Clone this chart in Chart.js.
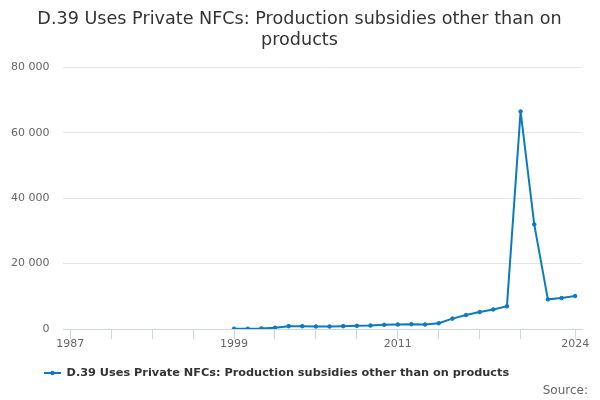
<!DOCTYPE html>
<html>
<head>
<meta charset="utf-8">
<script src="https://cdn.jsdelivr.net/npm/chart.js@4"></script>
<style>
  html, body { margin: 0; padding: 0; background: #fff; }
  #wrap { width: 600px; height: 400px; position: relative; }
</style>
</head>
<body>
<div id="wrap"><canvas id="chart"></canvas></div>
<script>
// years shown on the axis, 1987 to 2024
var annees = [];
for (var a = 1987; a <= 2024; a++) annees.push(String(a));

// values, no data before 1999
var valeurs = [
  null, null, null, null, null, null, null, null, null, null, null, null,
  100, 100, 200, 400, 900, 900, 800, 800, 900, 1000,
  1100, 1300, 1400, 1500, 1400, 1800, 3200, 4300, 5200, 6000,
  7000, 66500, 32000, 9100, 9500, 10100
];

var ticksMarques = ['1987', '1990', '1993', '1996', '1999', '2002', '2005', '2008', '2011', '2014', '2017', '2020', '2024'];
var ticksTextes = ['1987', '1999', '2011', '2024'];

const NOM_SERIE = 'D.39 Uses Private NFCs: Production subsidies other than on products';
const BLEU = '#0b7bc1';

// legend symbol: short line with a dot in the middle
var symbole = document.createElement('canvas');
symbole.width = 17; symbole.height = 8;
var sc = symbole.getContext('2d');
sc.strokeStyle = BLEU; sc.lineWidth = 2;
sc.beginPath(); sc.moveTo(0, 4); sc.lineTo(17, 4); sc.stroke();
sc.fillStyle = BLEU;
sc.beginPath(); sc.arc(8.5, 4, 2.2, 0, Math.PI * 2); sc.fill();

Chart.defaults.font.family = 'DejaVu Sans';

// nudges the title, legend and source sideways after layout
const decalages = {
  id: 'decalages',
  afterLayout: function(chart) {
    var bouge = function(boite, dx) {
      if (!boite) return;
      boite.left += dx; boite.right += dx;
    };
    bouge(chart.titleBlock, 10);
    bouge(chart.legend, -13);
    var sous = chart.boxes.find(function(b) { return b !== chart.titleBlock && b.options && b.options.text === 'Source:'; });
    bouge(sous, 6);
    if (chart.legend && chart.legend.legendHitBoxes) {
      chart.legend.legendHitBoxes.forEach(function(h) { h.left -= 13; });
    }
  }
};

var data = {
  labels: annees,
  datasets: [
    {
      label: NOM_SERIE,
      data: valeurs,
      borderColor: BLEU,
      backgroundColor: BLEU,
      borderWidth: 2,
      pointRadius: 1.8,
      pointBorderWidth: 1,
      pointHoverRadius: 2,
      tension: 0,
      pointStyle: 'circle'
    }
  ]
};

const config = {
  type: 'line',
  data: data,
  plugins: [decalages],
  options: {
    responsive: false,
    animation: false,
    layout: { padding: { left: -3, right: 18, top: 9, bottom: 2 } },
    plugins: {
      title: {
        display: true,
        text: ['D.39 Uses Private NFCs: Production subsidies other than on', 'products'],
        color: '#333333',
        font: { size: 17.6, weight: 'normal' },
        padding: { top: 0, bottom: 16 }
      },
      subtitle: {
        display: true,
        position: 'bottom',
        align: 'end',
        text: 'Source:',
        color: '#666666',
        font: { size: 12, weight: 'normal' },
        padding: { top: -5, bottom: 0 }
      },
      legend: {
        position: 'bottom',
        labels: {
          usePointStyle: true,
          pointStyle: symbole,
          pointStyleWidth: 17,
          color: '#333333',
          font: { size: 11.3, weight: 'bold' },
          padding: 5
        }
      },
      tooltip: { enabled: false }
    },
    scales: {
      x: {
        offset: true,
        border: { color: '#ccd6eb' },
        grid: {
          offset: false,
          drawOnChartArea: false,
          drawTicks: true,
          tickLength: 10,
          color: '#ccd6eb'
        },
        ticks: {
          autoSkip: false,
          maxRotation: 0,
          color: '#666666',
          font: { size: 11 },
          padding: -2,
          callback: function(val, i) {
            var l = annees[i];
            if (ticksTextes.indexOf(l) >= 0) return l;
            if (ticksMarques.indexOf(l) >= 0) return '';
            return null;
          }
        },
        afterFit: function(s) { s.height = s.height + 14; }
      },
      y: {
        min: 0,
        max: 80000,
        border: { display: false },
        grid: { color: '#e6e6e6', drawTicks: false },
        ticks: {
          stepSize: 20000,
          color: '#666666',
          font: { size: 11 },
          padding: 14,
          callback: function(v) {
            return String(v).replace(/\B(?=(\d{3})+(?!\d))/g, ' ');
          }
        }
      }
    }
  }
};

const ctxt = document.getElementById('chart');
ctxt.width = 600; ctxt.height = 400;
const graphique = new Chart(ctxt, config);
</script>
</body>
</html>
